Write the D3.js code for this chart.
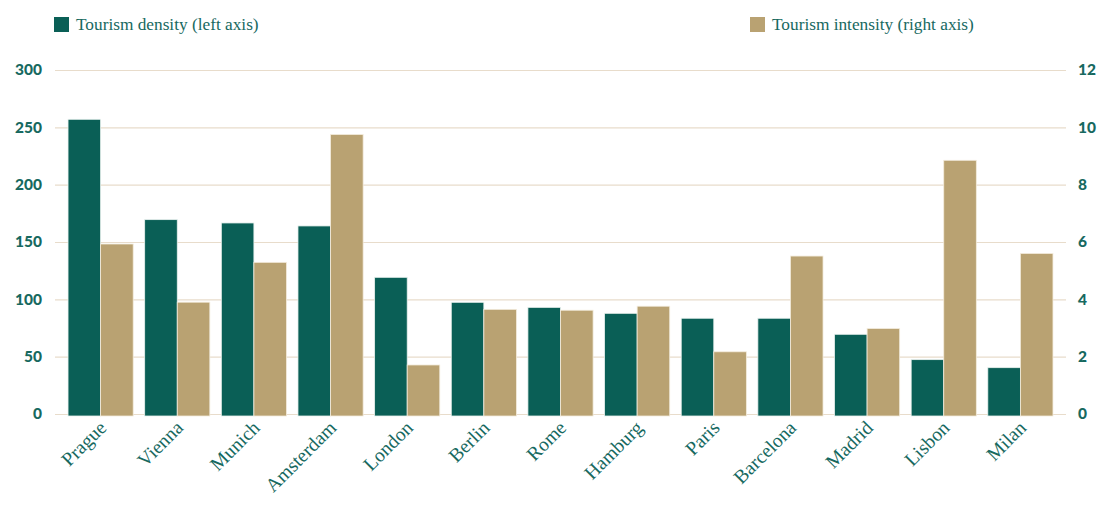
<!DOCTYPE html>
<html>
<head>
<meta charset="utf-8">
<script src="https://cdn.jsdelivr.net/npm/d3@7"></script>
<style>
  html, body { margin: 0; padding: 0; background: #ffffff; }
  svg { display: block; }
</style>
</head>
<body>
<div id="chart"></div>
<script>
// Tourism density (left axis) and tourism intensity (right axis) for 13 European cities
const cities = ["Prague", "Vienna", "Munich", "Amsterdam", "London", "Berlin", "Rome",
                "Hamburg", "Paris", "Barcelona", "Madrid", "Lisbon", "Milan"];
const density = [257, 169.5, 166.6, 164, 119.2, 97.4, 93, 87.8, 83.5, 83.5, 69.5, 47.4, 40.4];
const intensity = [5.93, 3.9, 5.29, 9.75, 1.71, 3.65, 3.62, 3.76, 2.17, 5.51, 2.98, 8.85, 5.6];
const leftTicks = [0, 50, 100, 150, 200, 250, 300];
const rightTicks = [0, 2, 4, 6, 8, 10, 12];
const seriesNames = ["Tourism density (left axis)", "Tourism intensity (right axis)"];

const W = 1098, H = 505;
const green = "#0a5f56", tan = "#b9a272", grid = "#e8dccb", textGreen = "#17695f";
const plot = { left: 55, right: 1066, top: 70, bottom: 414 };

const svg = d3.select("#chart").append("svg").attr("width", W).attr("height", H);

const x = d3.scaleBand().domain(cities).range([plot.left, plot.right])
  .paddingInner(0.15).paddingOuter(0.17);
const xs = d3.scaleBand().domain(["d", "i"]).range([0, x.bandwidth()]);
const yL = d3.scaleLinear().domain([0, 300]).range([plot.bottom, plot.top]);
const yR = d3.scaleLinear().domain([0, 12]).range([plot.bottom, plot.top]);

// gridlines
svg.append("g")
  .attr("transform", `translate(${plot.left},0)`)
  .call(d3.axisLeft(yL).tickValues(leftTicks).tickSize(-(plot.right - plot.left)).tickFormat(""))
  .call(g => g.select(".domain").remove())
  .call(g => g.selectAll("line").attr("stroke", grid).attr("stroke-width", 1.2));

// left axis labels
svg.append("g")
  .attr("transform", `translate(${plot.left},0)`)
  .call(d3.axisLeft(yL).tickValues(leftTicks).tickSize(0).tickPadding(13))
  .call(g => g.select(".domain").remove())
  .call(g => g.selectAll("text").attr("fill", textGreen)
    .style("font-family", "Lato, 'Open Sans', sans-serif").style("font-weight", 900)
    .style("font-size", "15.5px"));

// right axis labels
svg.append("g")
  .attr("transform", `translate(${plot.right},0)`)
  .call(d3.axisRight(yR).tickValues(rightTicks).tickSize(0).tickPadding(12))
  .call(g => g.select(".domain").remove())
  .call(g => g.selectAll("text").attr("fill", textGreen)
    .style("font-family", "Lato, 'Open Sans', sans-serif").style("font-weight", 900)
    .style("font-size", "15.5px"));

// bars
const groups = svg.append("g").selectAll("g").data(cities).join("g")
  .attr("transform", d => `translate(${x(d)},0)`);

groups.append("rect")
  .attr("x", xs("d")).attr("width", xs.bandwidth())
  .attr("y", (d, i) => yL(density[i]))
  .attr("height", (d, i) => yL(0) - yL(density[i]) + 2)
  .attr("fill", green).attr("stroke", "#e9f1ee").attr("stroke-width", 0.8);

groups.append("rect")
  .attr("x", xs("i")).attr("width", xs.bandwidth())
  .attr("y", (d, i) => yR(intensity[i]))
  .attr("height", (d, i) => yR(0) - yR(intensity[i]) + 2)
  .attr("fill", tan).attr("stroke", "#f3ecdd").attr("stroke-width", 0.8);

// category labels
svg.append("g")
  .attr("transform", `translate(0,${plot.bottom})`)
  .call(d3.axisBottom(x).tickSize(0).tickPadding(0))
  .call(g => g.select(".domain").remove())
  .call(g => g.selectAll(".tick text")
    .attr("fill", textGreen)
    .attr("text-anchor", "end")
    .attr("dy", 0)
    .attr("transform", "translate(7,15) rotate(-45)")
    .style("font-family", "'Liberation Serif', 'DejaVu Serif', serif")
    .style("font-size", "19.5px"));

// legend
const legend = [
  { name: seriesNames[0], color: green, x: 54 },
  { name: seriesNames[1], color: tan, x: 750 }
];
const lg = svg.append("g").selectAll("g").data(legend).join("g")
  .attr("transform", d => `translate(${d.x},17)`);
lg.append("rect").attr("width", 15).attr("height", 15).attr("fill", d => d.color);
lg.append("text").attr("x", 22).attr("y", 13)
  .attr("fill", textGreen)
  .style("font-family", "'Liberation Serif', 'DejaVu Serif', serif")
  .style("font-size", "17.3px")
  .text(d => d.name);
</script>
</body>
</html>
